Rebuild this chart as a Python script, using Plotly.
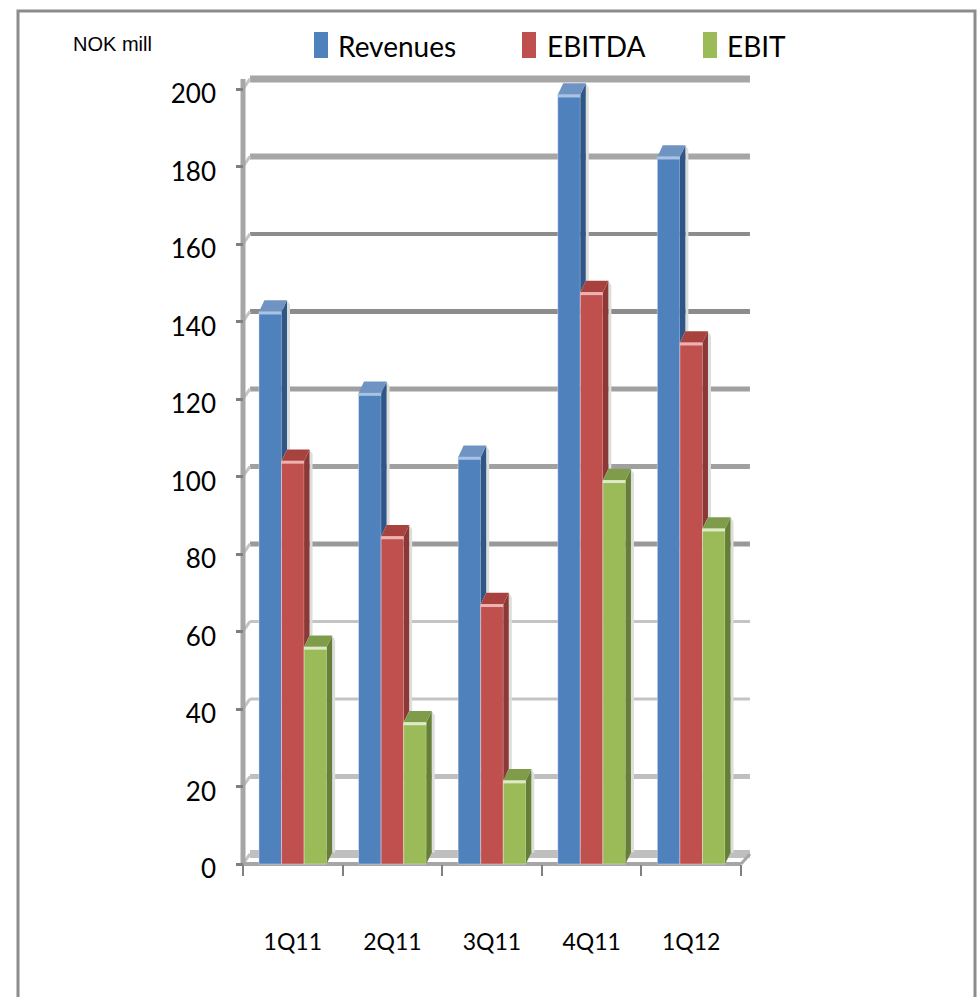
import plotly.graph_objects as go

categories = ["1Q11", "2Q11", "3Q11", "4Q11", "1Q12"]
revenues = [142.5, 121.5, 105, 198.5, 182.5]
ebitda = [104, 84.5, 67, 147.5, 134.5]
ebit = [56, 36.5, 21.5, 99, 86.5]
series_names = ["Revenues", "EBITDA", "EBIT"]
y_ticks = [0, 20, 40, 60, 80, 100, 120, 140, 160, 180, 200]

W, H = 978, 997
FONT = "Lato"

front = ["#4f81bd", "#c0504d", "#9bbb59"]
side = ["#2f5687", "#8c3836", "#667f36"]
cap = ["#6f93c2", "#a8423f", "#7f9c4a"]
hi = ["#a9c3e3", "#eeb3b1", "#dfeac6"]
grid_w = [8, 5, 3, 3, 5, 5, 5, 5, 4, 6, 7]
grid_c = ["#bfbfbf", "#bfbfbf", "#c4c4c4", "#c4c4c4", "#999999", "#a0a0a0", "#a0a0a0",
          "#8c8c8c", "#8c8c8c", "#a6a6a6", "#a6a6a6"]

data = [revenues, ebitda, ebit]
bw = 0.68 / 3
dx, dy = 0.055, 3.0   # 3D depth in axis units
gx, gy = 0.07, 2.6    # back wall shift in axis units
XMIN, XMAX = -0.5, 4.5

# plot window (pixels) and axis scale
PX_X0, PX_X1 = 230, 760
PX_Y0, PX_Y1 = 70, 875
x_per_px = (XMAX - XMIN) / (741 - 243)
y_per_px = 200 / (864 - 89)
x_range = [XMIN - (243 - PX_X0) * x_per_px, XMAX + (PX_X1 - 741) * x_per_px]
y_range = [-(PX_Y1 - 864) * y_per_px, 200 + (89 - PX_Y0) * y_per_px]
y_dom = [(H - PX_Y1) / H, (H - PX_Y0) / H]
label_shift = 5 * y_per_px  # tick labels sit a little below their ticks

fig = go.Figure()


def lines(xs, ys, color, width, yaxis="y"):
    fig.add_trace(go.Scatter(x=xs, y=ys, mode="lines", yaxis=yaxis,
                             line=dict(color=color, width=width), hoverinfo="skip", showlegend=False))


def poly(xs, ys, color):
    fig.add_trace(go.Scatter(x=xs, y=ys, mode="lines", yaxis="y2", fill="toself",
                             fillcolor=color, line=dict(width=0), hoverinfo="skip", showlegend=False))


# back wall grid, corner joints, axis lines
for v, w, c in zip(y_ticks, grid_w, grid_c):
    lines([XMIN + gx, XMAX + 0.09], [v + gy, v + gy], c, w)
    lines([XMIN, XMIN + gx], [v, v + gy], "#c4c4c4", 3)
lines([XMAX, XMAX + 0.09], [0, gy], "#a6a6a6", 3)
lines([XMIN, XMIN], [0, 200 + gy], "#a6a6a6", 5)
lines([XMIN, XMAX], [0, 0], "#a6a6a6", 4)

# dummy trace carrying the shifted tick label axis
fig.add_trace(go.Scatter(x=[0], y=[0], yaxis="y3", mode="markers", marker=dict(opacity=0),
                         hoverinfo="skip", showlegend=False))

# front faces
for s, vals in enumerate(data):
    fig.add_trace(go.Bar(x=list(range(5)), y=vals, name=series_names[s], yaxis="y2",
                         marker=dict(color=front[s], line=dict(color="rgba(255,255,255,0.35)", width=1)),
                         showlegend=False))

# 3D sides, shadows, caps, highlights (from back to front)
for s, vals in enumerate(data):
    for i, v in enumerate(vals):
        x0 = i + (s - 1.5) * bw
        x1 = x0 + bw
        low = data[s + 1][i] if s < 2 else 0
        poly([x1 + dx, x1 + dx + 0.03, x1 + dx + 0.03, x1 + dx],
             [low + dy, low + dy, v + dy * 0.6, v + dy], "#dcdedb")
        poly([x1, x1 + dx, x1 + dx, x1], [low, low + dy, v + dy, v], side[s])
        poly([x0, x0 + dx, x1 + dx, x1], [v, v + dy, v + dy, v], cap[s])
        lines([x0, x1], [v - 0.3, v - 0.3], hi[s], 3, "y2")

fig.update_layout(
    width=W, height=H, margin=dict(l=0, r=0, t=0, b=0, autoexpand=False),
    paper_bgcolor="white", plot_bgcolor="rgba(0,0,0,0)",
    barmode="group", bargap=0.32, bargroupgap=0, showlegend=False,
    xaxis=dict(domain=[PX_X0 / W, PX_X1 / W], range=x_range, tickmode="array",
               tickvals=list(range(5)), ticktext=categories, ticks="", showgrid=False, zeroline=False,
               showline=False, anchor="free", position=(H - 864) / H,
               tickfont=dict(family=FONT, size=23, color="black"), ticklabelstandoff=62,
               minor=dict(ticks="outside", tick0=-0.5, dtick=1, ticklen=11, tickwidth=2, tickcolor="#808080",
                          showgrid=False)),
    yaxis=dict(domain=y_dom, range=y_range, tickvals=y_ticks, ticks="outside", anchor="free", position=243 / W,
               ticklen=7, tickwidth=3, tickcolor="#808080", showticklabels=False, showgrid=False,
               zeroline=False, showline=False),
    yaxis2=dict(domain=y_dom, range=y_range, overlaying="y", visible=False),
    yaxis3=dict(domain=y_dom, range=[y_range[0] + label_shift, y_range[1] + label_shift], overlaying="y",
                tickvals=y_ticks, ticks="", showgrid=False, zeroline=False, showline=False, anchor="free",
                position=243 / W, ticklabelstandoff=27, tickfont=dict(family=FONT, size=26, color="black")),
    shapes=[dict(type="rect", xref="paper", yref="paper", x0=18 / W, x1=975 / W, y0=-0.05, y1=(H - 11) / H,
                 line=dict(color="#8c8c8c", width=3), layer="below")],
    annotations=[dict(text="NOK mill", xref="paper", yref="paper", x=112 / W, y=(H - 44) / H, showarrow=False,
                      xanchor="center", yanchor="middle",
                      font=dict(family="Liberation Sans", size=20, color="black"))],
)

# legend, placed to match the reference
legend_rect_x = [314, 522, 703]
legend_text_x = [338, 547, 727]
for s, name in enumerate(series_names):
    fig.add_shape(type="rect", xref="paper", yref="paper", x0=legend_rect_x[s] / W, x1=(legend_rect_x[s] + 14) / W,
                  y0=(H - 58) / H, y1=(H - 32) / H, fillcolor=front[s], line=dict(width=0))
    fig.add_annotation(text=name, xref="paper", yref="paper", x=legend_text_x[s] / W, y=(H - 46) / H,
                       xanchor="left", yanchor="middle", showarrow=False, xshift=-2,
                       font=dict(family=FONT, size=28, color="black"))

fig.write_html("out.html", config=dict(displayModeBar=False),
               post_script="document.body.style.margin='0';document.body.style.overflow='hidden';")
